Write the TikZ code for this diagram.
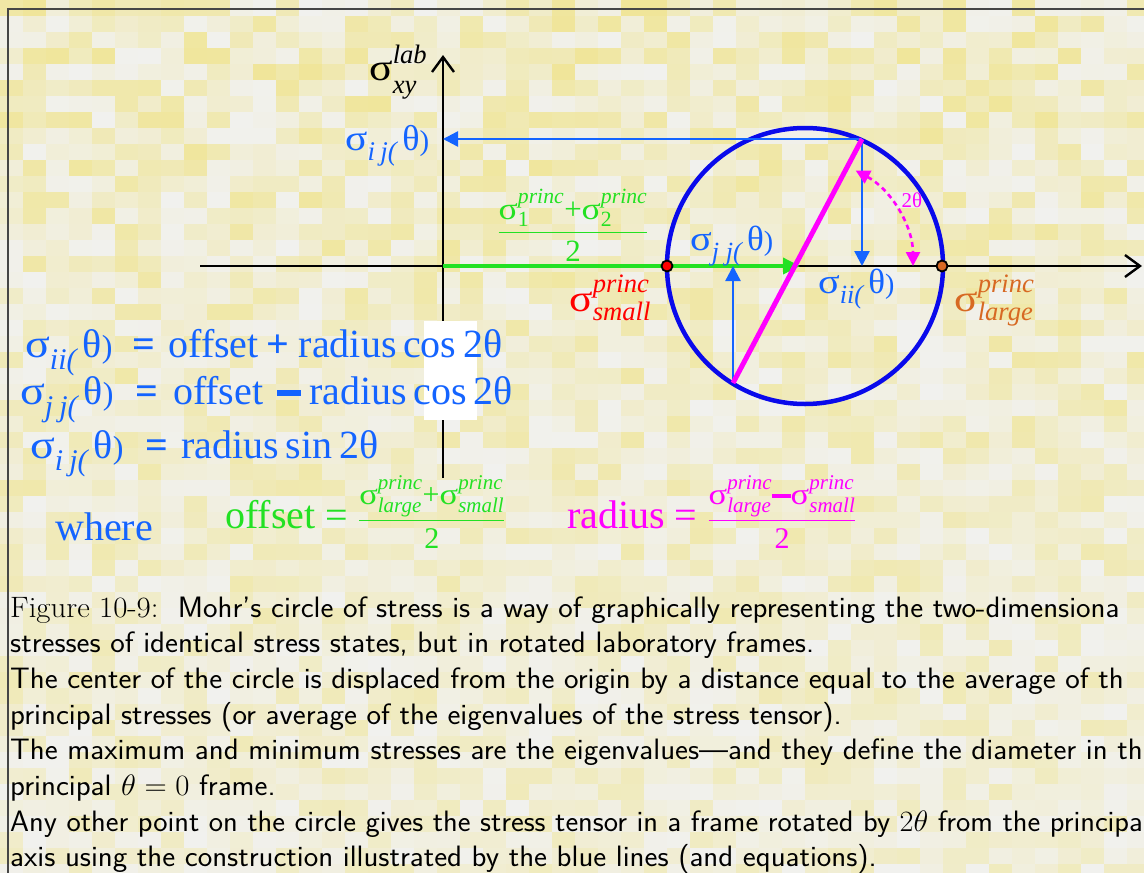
\documentclass[tikz,border=0pt]{standalone}
\usepackage{fix-cm}
\usepackage{amsmath}
\usepackage{fontspec}
\newfontfamily\tms{Liberation Serif}
\usetikzlibrary{arrows.meta,calc}

\definecolor{eqblue}{RGB}{20,100,255}
\definecolor{cblue}{RGB}{10,10,235}
\definecolor{grn}{RGB}{35,225,35}
\definecolor{mag}{RGB}{255,0,255}
\definecolor{org}{RGB}{215,105,35}
\definecolor{yel}{RGB}{240,229,150}
\definecolor{wht}{RGB}{241,241,238}

\newcommand\wsig{\scalebox{1.15}[1]{σ}}
\newcommand\sg{\text{\wsig}}
\newcommand\sgi[1]{\wsig\raisebox{-0.3em}{\scalebox{0.75}{\itshape #1(}}\hspace{0.15em}θ\scalebox{0.8}{)}}
\newcommand\sgp[2]{$\sg^{\text{\itshape #1}}_{\text{\itshape #2}}$}
\newcommand\mbar{\rule[0.2em]{0.62em}{0.15em}}

\begin{document}
\begin{tikzpicture}[x=1pt,y=-1pt,
  lab/.style={inner sep=0pt,anchor=base west,font=\tms},
  eq/.style={lab,text=eqblue,font=\tms\fontsize{40}{46}\selectfont},
  capline/.style={inner sep=0pt,anchor=base west,text=black,font=\sffamily\fontsize{29.5}{36}\selectfont},
  axisline/.style={black,line width=2.4pt,-{Straight Barb[length=15pt,width=22pt,line width=2.4pt]}},
  bluearrow/.style={eqblue,line width=2.4pt,-{Triangle[length=15pt,width=15pt]}},
  dotmark/.style={circle,draw=black,line width=1.8pt,minimum size=11pt,inner sep=0pt}]

\useasboundingbox (0,0) rectangle (1144,873);
\clip (0,0) rectangle (1144,873);

% background tiles
\pgfmathsetseed{7}
\foreach \i in {0,...,49}{
  \foreach \j in {0,...,54}{
    \pgfmathsetmacro\p{int(100*(rnd^1.3)*(1-0.45*\j/55))}
    \fill[yel!\p!wht] (\i*23,\j*16) rectangle ++(23.6,16.6);
  }
}

% frame
\draw[gray!55!black,line width=1.6pt] (8,873) -- (8,9) -- (1144,9);

% coordinates
\coordinate (O) at (443,266);
\coordinate (xl) at (200,266);
\coordinate (xr) at (1142,266);
\coordinate (yb) at (443,478);
\coordinate (yt) at (443,55);
\coordinate (C) at (805,266);
\coordinate (P) at (862,139);
\coordinate (Q) at (733,383);
\coordinate (G) at (800,266);
\coordinate (A1) at ($(C)+(-62:108)$);

% axes
\draw[axisline] (xl) -- (xr);
\draw[axisline] (yb) -- (yt);

% green offset arrow
\draw[grn,line width=3.5pt,-{Triangle[length=17pt,width=16pt]}] (O) -- (G);

% circle
\draw[cblue,line width=4.5pt] (C) circle[radius=138];

% construction lines
\draw[bluearrow] (P) -- (O |- P);
\draw[bluearrow] (P) -- (P |- O);
\draw[bluearrow] (Q) -- (Q |- O);
\draw[mag,line width=5pt] (P) -- (Q);

% 2 theta arc
\draw[mag,line width=2.6pt,dash pattern=on 5pt off 4pt,
  {Triangle[length=14pt,width=14pt]}-{Triangle[length=14pt,width=14pt]}]
  (A1) arc[start angle=-62,end angle=0,radius=108];

% points
\node[dotmark,fill=red] (small) at (667,266) {};
\node[dotmark,fill=org] (large) at (942,266) {};

% labels
\node[lab,text=black,font=\tms\fontsize{38}{44}\selectfont] (lxy) at (369,80) {$\sg^{\text{\raisebox{0.12em}{\itshape lab}}}_{\text{\raisebox{-0.15em}{\itshape xy}}}$};
\node[lab,text=eqblue,font=\tms\fontsize{36}{42}\selectfont] (lij) at (345,150) {\sgi{i\hspace{0.2em}j}};
\node[lab,text=eqblue,font=\tms\fontsize{35}{42}\selectfont] (ljj) at (690,250) {\sgi{j\hspace{0.25em}j}};
\node[lab,text=eqblue,font=\tms\fontsize{35}{42}\selectfont] (lii) at (818,293) {\sgi{ii}};
\node[lab,text=red,font=\tms\fontsize{38}{44}\selectfont] (lsmall) at (569,311) {\sgp{princ}{small}};
\node[lab,text=org,font=\tms\fontsize{38}{44}\selectfont] (llarge) at (954,311) {\sgp{princ}{large}};
\node[inner sep=0pt,anchor=base,text=grn,font=\tms\fontsize{31}{36}\selectfont] (favg) at (573,240)
  {$\dfrac{\sg^{\text{\itshape princ}}_{\text{1}}\text{+}\sg^{\text{\itshape princ}}_{\text{2}}}{\text{2}}$};
\node[inner sep=0pt,text=mag,font=\tms\fontsize{21}{24}\selectfont] (l2t) at (912,200) {2θ};

% white patch
\fill[white] (424,321) rectangle (477,420);

% equations
\node[eq] (e1) at (25,357) {\sgi{ii}\hspace{0.5em}\textbf{=}\hspace{0.33em}offset\hspace{0.18em}\textbf{+}\hspace{0.25em}radius\,cos\,2θ};
\node[eq] (e2) at (20,404) {\sgi{j\hspace{0.2em}j}\hspace{0.55em}\textbf{=}\hspace{0.37em}offset\hspace{0.33em}\mbar\hspace{0.2em}radius\,cos\,2θ};
\node[eq] (e3) at (30,458) {\sgi{i\hspace{0.2em}j}\hspace{0.55em}\textbf{=}\hspace{0.33em}radius\,sin\,2θ};
\node[eq] (where) at (55,540) {where};
\node[lab,text=grn] (off) at (225,528) {\fontsize{40}{46}\selectfont offset =\ %
  \fontsize{30}{36}\selectfont$\dfrac{\sg^{\text{\itshape princ}}_{\text{\itshape large}}\text{+}\sg^{\text{\itshape princ}}_{\text{\itshape small}}}{\text{2}}$};
\node[lab,text=mag] (rad) at (567,528) {\fontsize{40}{46}\selectfont radius =\ %
  \fontsize{30}{36}\selectfont$\dfrac{\sg^{\text{\itshape princ}}_{\text{\itshape large}}\text{\mbar}\sg^{\text{\itshape princ}}_{\text{\itshape small}}}{\text{2}}$};

% caption
\node[capline] (c1) at (10,617) {\scalebox{1.045}[1]{{\rmfamily Figure 10-9:}\ \ Mohr's circle of stress is a way of graphically representing the two-dimensiona}};
\node[capline] (c2) at (10,652.7) {\scalebox{1.045}[1]{stresses of identical stress states, but in rotated laboratory frames.}};
\node[capline] (c3) at (10,688.4) {\scalebox{1.045}[1]{The center of the circle is displaced from the origin by a distance equal to the average of th}};
\node[capline] (c4) at (10,724.1) {\scalebox{1.045}[1]{principal stresses (or average of the eigenvalues of the stress tensor).}};
\node[capline] (c5) at (10,759.8) {\scalebox{1.045}[1]{The maximum and minimum stresses are the eigenvalues---and they define the diameter in th}};
\node[capline] (c6) at (10,795.5) {\scalebox{1.045}[1]{principal $\theta=0$ frame.}};
\node[capline] (c7) at (10,831.2) {\scalebox{1.03}[1]{Any other point on the circle gives the stress tensor in a frame rotated by $2\theta$ from the principa}};
\node[capline] (c8) at (10,866.9) {\scalebox{1.045}[1]{axis using the construction illustrated by the blue lines (and equations).}};
\end{tikzpicture}
\end{document}
